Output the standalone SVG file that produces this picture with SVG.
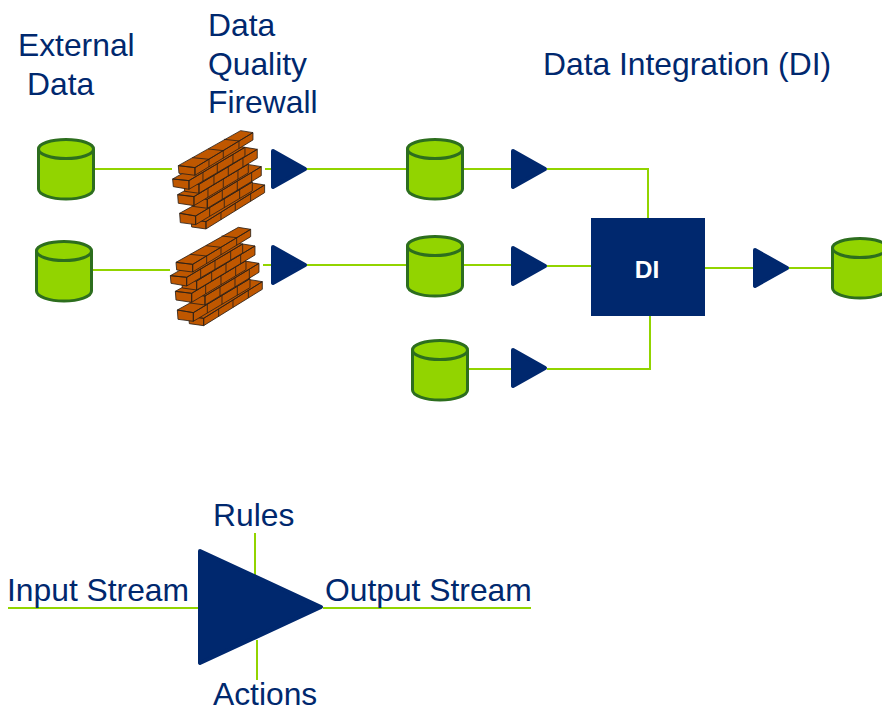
<svg xmlns="http://www.w3.org/2000/svg" width="882" height="712" viewBox="0 0 882 712">
<style>
.t{font-family:"Liberation Sans",Arial,sans-serif;font-size:31.8px;fill:#00286e}
.c{fill:none;stroke:#92d400;stroke-width:2}
.tri{fill:#00286e;stroke:#00286e;stroke-width:4;stroke-linejoin:round}
.cy{fill:#92d400;stroke:#2d6e1e;stroke-width:3}
.b{fill:#bf5700;stroke:#2b2018;stroke-width:2.500;stroke-linejoin:round}
</style>
<defs>
<g id="cyl">
<path class="cy" d="M1.500 11V51C1.500 56.500 14 61 29 61S56.500 56.500 56.500 51V11"/>
<ellipse class="cy" cx="29" cy="11" rx="27.500" ry="9.500"/>
</g>
<path id="tr" class="tri" d="M2 2L34 20L2 38Z"/>
<g id="wall">
<path class="b" d="M86 289L131 295V317L88 311ZM86 289L270 179L307 185L131 295ZM131 295L307 185V208L131 317ZM176 267V290M219 240V263M265 211V234"/>
<path class="b" d="M52 270L100 278V304L54 298ZM52 270L233 170L270 176L100 278ZM100 278L270 176V203L100 304ZM142 253V279M186 226V253M232 199V226"/>
<path class="b" d="M88 222L135 228V255L90 249ZM88 222L260 124L297 130L135 228ZM135 228L297 130V157L135 255ZM180 201V228M225 174V201M268 148V175"/>
<path class="b" d="M46 214L95 220V247L48 240ZM46 214L221 116L258 122L95 220ZM95 220L258 122V149L95 247ZM137 195V222M183 167V194M227 141V168"/>
<path class="b" d="M65 177L110 183V210L67 204ZM65 177L248 72L285 78L110 183ZM110 183L285 78V105L110 210ZM155 156V183M198 130V157M242 104V131"/>
<path class="b" d="M31 167L80 172V198L33 190ZM31 167L211 66L248 72L80 172ZM80 172L248 72V99L80 198ZM122 147V174M165 121V148M212 93V120"/>
<path class="b" d="M48 127L98 133V156L50 150ZM48 127L235 22L272 28L98 133ZM98 133L272 28V50L98 156ZM140 108V131M183 82V105M230 53V76M90 103L140 108M138 77L183 82M185 48L230 53"/>
</g>
</defs>
<rect width="882" height="712" fill="#fff"/>
<g id="connectors">
<path class="c" d="M95 169H172M265 169H406M464 169H511M547 169H648V218"/>
<path class="c" d="M93 270H170M263 265H406M464 265H511M547 266H591"/>
<path class="c" d="M469 369H511M547 369H650V316"/>
<path class="c" d="M705 268H753M789 268H831"/>
<path class="c" d="M8 608H198M323 608H531M255 533V575M257 640V680"/>
</g>
<g id="ext1"><use href="#cyl" x="37" y="138"/></g>
<g id="ext2"><use href="#cyl" x="35" y="240"/></g>
<g id="db1"><use href="#cyl" x="406" y="138"/></g>
<g id="db2"><use href="#cyl" x="406" y="235"/></g>
<g id="db3"><use href="#cyl" x="411" y="339"/></g>
<g id="db4"><use href="#cyl" x="831" y="237"/></g>
<g id="wall1"><use href="#wall" transform="translate(162.300 123.300) scale(.3333)"/></g>
<g id="wall2"><use href="#wall" transform="translate(160 220) scale(.3333)"/></g>
<g id="tri1"><use href="#tr" x="271" y="149"/></g>
<g id="tri2"><use href="#tr" x="271" y="245"/></g>
<g id="tri3"><use href="#tr" x="511" y="149"/></g>
<g id="tri4"><use href="#tr" x="511" y="246"/></g>
<g id="tri5"><use href="#tr" x="511" y="348"/></g>
<g id="tri6"><use href="#tr" x="753" y="248"/></g>
<g id="di"><rect x="591" y="218" width="114" height="98" fill="#00286e"/>
<text x="647" y="278" text-anchor="middle" font-family="Liberation Sans, Arial, sans-serif" font-size="24.500" font-weight="bold" fill="#fff">DI</text></g>
<g id="legend"><path fill="#00286e" stroke="#00286e" stroke-width="4" stroke-linejoin="round" d="M200 551L321 607L200 663Z"/></g>
<g id="labels">
<text class="t" x="18" y="56">External</text>
<text class="t" x="27" y="95">Data</text>
<text class="t" x="208" y="36">Data</text>
<text class="t" x="208" y="75">Quality</text>
<text class="t" x="208" y="113">Firewall</text>
<text class="t" x="543" y="75">Data Integration (DI)</text>
<text class="t" x="213" y="526">Rules</text>
<text class="t" x="7" y="601">Input Stream</text>
<text class="t" x="325" y="601">Output Stream</text>
<text class="t" x="213" y="705">Actions</text>
</g>
</svg>
